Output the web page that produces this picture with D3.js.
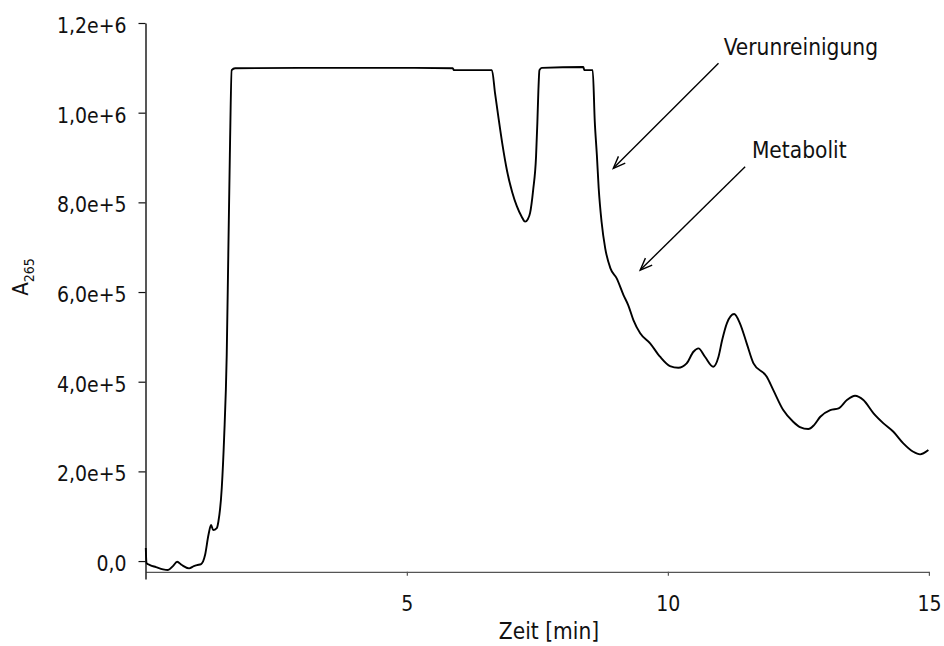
<!DOCTYPE html>
<html><head><meta charset="utf-8">
<script src="https://cdn.jsdelivr.net/npm/d3@7/dist/d3.min.js"></script>
<style>
body{margin:0;background:#fff}
text{font-family:"DejaVu Sans Condensed","DejaVu Sans",sans-serif;font-stretch:condensed;fill:#111}
</style>
</head><body><svg id="c" width="944" height="646"></svg>
<script>
// ---- data ----
const timeMin = [0.000,0.013,0.08,0.195,0.33,0.425,0.52,0.60,0.69,0.83,0.92,0.98,1.06,1.135,1.20,1.25,1.29,1.36,1.39,1.455,1.50,1.55,1.58,1.61,1.645,1.71,2.95,4.87,5.88,5.90,6.63,6.69,6.76,6.83,6.92,7.02,7.105,7.20,7.265,7.32,7.36,7.42,7.475,7.50,7.52,7.54,7.585,8.38,8.40,8.56,8.60,8.64,8.675,8.73,8.80,8.90,9.02,9.15,9.24,9.34,9.47,9.66,9.85,10.04,10.20,10.36,10.49,10.585,10.71,10.87,10.97,11.04,11.13,11.27,11.38,11.51,11.64,11.895,12.02,12.21,12.40,12.53,12.69,12.80,12.92,13.11,13.27,13.43,13.585,13.745,13.94,14.13,14.32,14.51,14.70,14.83,14.99];
const absorbance = [29000,-4500,-8900,-13400,-18500,-20000,-11200,-1600,-8900,-16300,-11200,-8900,-6700,13400,58000,80300,69100,73600,87700,162800,274300,459500,682500,905500,1095000,1099000,1100000,1100000,1099000,1095000,1095000,1043000,985000,930000,870000,822000,792000,768000,757000,763000,776000,828000,902000,977000,1050000,1095000,1100000,1102000,1095000,1095000,980000,905500,831300,756800,697400,652800,630500,593300,571000,537500,508000,485600,455700,434900,431100,440900,466800,474400,455700,433400,455700,492900,530200,550900,530200,485600,440900,411100,381400,336800,310700,298900,294400,303300,321900,336800,340600,359100,368700,359100,329400,307100,288400,262500,243800,238000,247600];
const xTickValues = [5,10,15];
const xTickLabels = ["5","10","15"];
const yTickValues = [0,200000,400000,600000,800000,1000000,1200000];
const yTickLabels = ["0,0","2,0e+5","4,0e+5","6,0e+5","8,0e+5","1,0e+6","1,2e+6"];
const annotLabels = ["Verunreinigung","Metabolit"];
const annotTextT = [11.07,11.61];
const annotTextV = [1128600,898200];
const arrowTailT = [10.97,11.48];
const arrowTailV = [1110000,879400];
const arrowTipT = [8.955,9.47];
const arrowTipV = [875900,649000];
const xTitle = "Zeit [min]";

// ---- drawing ----
const svg = d3.select("#c");
const x = d3.scaleLinear().domain([0,15]).range([145.8,928.9]);
const y = d3.scaleLinear().domain([-40000,1200000]).range([579,23]);
const xAxisAt = -24000;

// x axis
const gx = svg.append("g").attr("transform",`translate(0,${y(xAxisAt)})`)
  .call(d3.axisBottom(x).tickValues(xTickValues).tickSize(4).tickSizeOuter(0)
    .tickFormat((d,i)=>xTickLabels[i]));
gx.select(".domain").attr("stroke","#555").attr("stroke-width",1.4);
gx.selectAll(".tick line").attr("stroke","#555").attr("stroke-width",1.2);
gx.selectAll(".tick text").attr("y",39).attr("dy",0).style("font-size","21px").attr("fill","#111");

// y axis
const gy = svg.append("g").attr("transform",`translate(${x(0)-0.3},0)`)
  .call(d3.axisLeft(y).tickValues(yTickValues).tickSize(7).tickSizeOuter(0)
    .tickFormat((d,i)=>yTickLabels[i]));
gy.select(".domain").attr("stroke","#111").attr("stroke-width",1.4);
gy.selectAll(".tick line").attr("stroke","#111").attr("stroke-width",1.2);
gy.selectAll(".tick text").attr("x",-19).attr("dy",9.5).style("font-size","21px").attr("fill","#111");

// curve
const pts = timeMin.map((t,i)=>[t,absorbance[i]]);
svg.append("path").datum(pts)
  .attr("fill","none").attr("stroke","#000").attr("stroke-width",1.9)
  .attr("stroke-linejoin","round")
  .attr("d",d3.line().x(d=>x(d[0])).y(d=>y(d[1])).curve(d3.curveMonotoneX));

// annotations
annotLabels.forEach((lab,i)=>{
  svg.append("text").attr("x",x(annotTextT[i])).attr("y",y(annotTextV[i]))
    .style("font-size","22.5px").text(lab);
  const x1=x(arrowTailT[i]), y1=y(arrowTailV[i]), x2=x(arrowTipT[i]), y2=y(arrowTipV[i]);
  svg.append("line").attr("x1",x1).attr("y1",y1).attr("x2",x2).attr("y2",y2)
    .attr("stroke","#000").attr("stroke-width",1.4);
  const ang = Math.atan2(y1-y2,x1-x2), L=13, a=0.38;
  const p = `M${x2+L*Math.cos(ang+a)},${y2+L*Math.sin(ang+a)}L${x2},${y2}L${x2+L*Math.cos(ang-a)},${y2+L*Math.sin(ang-a)}`;
  svg.append("path").attr("d",p).attr("fill","none").attr("stroke","#000").attr("stroke-width",1.4);
});

// axis titles
svg.append("text").attr("x",549).attr("y",639).attr("text-anchor","middle")
  .style("font-size","22.5px").text(xTitle);
const yt = svg.append("text").attr("transform","translate(28,277) rotate(-90)")
  .attr("text-anchor","middle").style("font-size","22px");
yt.append("tspan").text("A");
yt.append("tspan").attr("dy",6).style("font-size","14px").text("265");
</script>
</body></html>
